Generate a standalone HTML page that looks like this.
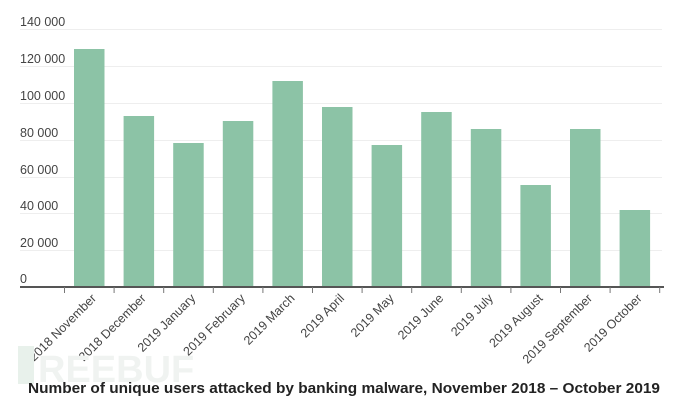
<!DOCTYPE html>
<html><head><meta charset="utf-8"><style>
html,body{margin:0;padding:0;background:#fff;width:690px;height:408px;overflow:hidden}
</style></head><body>
<svg width="690" height="408" xmlns="http://www.w3.org/2000/svg" font-family="Liberation Sans, sans-serif">
<g stroke="#eeeeee" stroke-width="1">
<line x1="20" x2="662" y1="29.5" y2="29.5"/>
<line x1="20" x2="662" y1="66.5" y2="66.5"/>
<line x1="20" x2="662" y1="103.5" y2="103.5"/>
<line x1="20" x2="662" y1="140.5" y2="140.5"/>
<line x1="20" x2="662" y1="177.5" y2="177.5"/>
<line x1="20" x2="662" y1="213.5" y2="213.5"/>
<line x1="20" x2="662" y1="250.5" y2="250.5"/>
</g>
<g font-size="12.5" fill="#444">
<text x="20" y="26">140 000</text>
<text x="20" y="63">120 000</text>
<text x="20" y="100">100 000</text>
<text x="20" y="137">80 000</text>
<text x="20" y="174">60 000</text>
<text x="20" y="210">40 000</text>
<text x="20" y="247">20 000</text>
<text x="20" y="283">0</text>
</g>
<g fill="#8cc3a6">
<rect x="74" y="49" width="30.5" height="238"/>
<rect x="123.6" y="116" width="30.5" height="171"/>
<rect x="173.2" y="143" width="30.5" height="144"/>
<rect x="222.8" y="121" width="30.5" height="166"/>
<rect x="272.4" y="81" width="30.5" height="206"/>
<rect x="322" y="107" width="30.5" height="180"/>
<rect x="371.6" y="145" width="30.5" height="142"/>
<rect x="421.2" y="112" width="30.5" height="175"/>
<rect x="470.8" y="129" width="30.5" height="158"/>
<rect x="520.4" y="185" width="30.5" height="102"/>
<rect x="570" y="129" width="30.5" height="158"/>
<rect x="619.6" y="210" width="30.5" height="77"/>
</g>
<line x1="20" x2="664" y1="287" y2="287" stroke="#555" stroke-width="2"/>
<g stroke="#777" stroke-width="1">
<line x1="64.5" x2="64.5" y1="287" y2="293"/><line x1="114.1" x2="114.1" y1="287" y2="293"/>
<line x1="163.7" x2="163.7" y1="287" y2="293"/><line x1="213.3" x2="213.3" y1="287" y2="293"/>
<line x1="262.9" x2="262.9" y1="287" y2="293"/><line x1="312.5" x2="312.5" y1="287" y2="293"/>
<line x1="362.1" x2="362.1" y1="287" y2="293"/><line x1="411.7" x2="411.7" y1="287" y2="293"/>
<line x1="461.3" x2="461.3" y1="287" y2="293"/><line x1="510.9" x2="510.9" y1="287" y2="293"/>
<line x1="560.5" x2="560.5" y1="287" y2="293"/><line x1="610.1" x2="610.1" y1="287" y2="293"/>
<line x1="659.7" x2="659.7" y1="287" y2="293"/>
</g>
<g font-size="12.5" fill="#444" text-anchor="end">
<text transform="translate(97,299) rotate(-45)">2018 November</text>
<text transform="translate(146.6,299) rotate(-45)">2018 December</text>
<text transform="translate(196.2,299) rotate(-45)">2019 January</text>
<text transform="translate(245.8,299) rotate(-45)">2019 February</text>
<text transform="translate(295.4,299) rotate(-45)">2019 March</text>
<text transform="translate(345,299) rotate(-45)">2019 April</text>
<text transform="translate(394.6,299) rotate(-45)">2019 May</text>
<text transform="translate(444.2,299) rotate(-45)">2019 June</text>
<text transform="translate(493.8,299) rotate(-45)">2019 July</text>
<text transform="translate(543.4,299) rotate(-45)">2019 August</text>
<text transform="translate(593,299) rotate(-45)">2019 September</text>
<text transform="translate(642.6,299) rotate(-45)">2019 October</text>
</g>
<rect x="18" y="346" width="16" height="38" fill="#e8f1eb"/>
<text x="38" y="382" font-size="38" font-weight="bold" fill="#f0f3f1">REEBUF</text>
<text x="28" y="393" font-size="14.5" font-weight="bold" fill="#222" textLength="632" lengthAdjust="spacingAndGlyphs">Number of unique users attacked by banking malware, November 2018 – October 2019</text>
</svg>
</body></html>
